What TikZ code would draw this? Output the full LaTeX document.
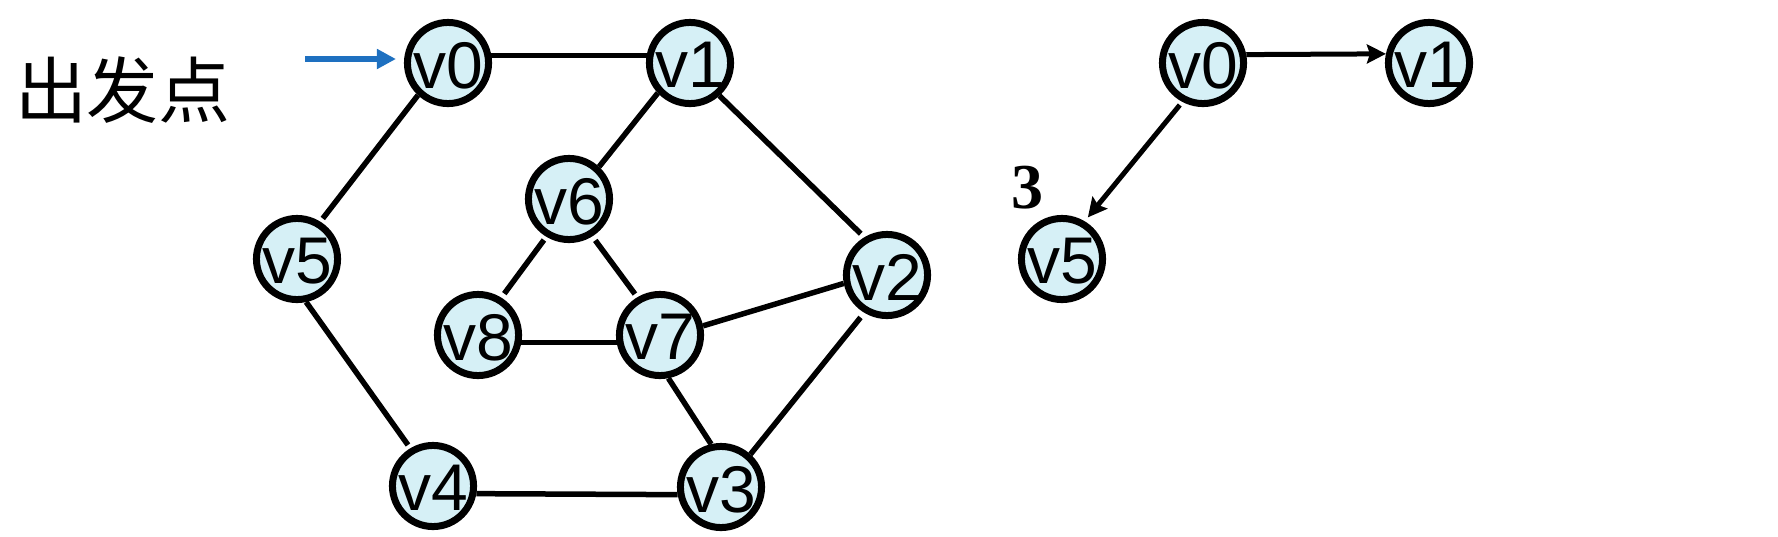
\documentclass[tikz,border=0pt]{standalone}
\usepackage{fontspec}
\setmainfont{Liberation Sans}
\newfontfamily\cjk{Noto Sans CJK SC}
\newfontfamily\serifnum{Liberation Serif}
\usetikzlibrary{arrows.meta}
\definecolor{nodefill}{RGB}{214,240,246}
\definecolor{startblue}{RGB}{30,112,192}
\newcommand{\vlab}[1]{\raisebox{-4pt}{#1}}
\begin{document}
\begin{tikzpicture}[x=1pt,y=-1pt,
  vert/.style={circle,draw=black,fill=nodefill,line width=7pt,minimum size=73pt,inner sep=0pt,
    font=\fontsize{66}{66}\selectfont,text depth=0pt},
  edge/.style={line width=5.5pt,black},
  darrow/.style={line width=5pt,black,-{Stealth[length=19pt,width=19pt,inset=3pt]}}
]
\useasboundingbox (0,0) rectangle (1778,536);
\fill[white] (0,0) rectangle (1778,536);

% left graph
\node[vert] (v0) at (448,63) {\vlab{v0}};
\node[vert] (v1) at (690,63) {\vlab{v1}};
\node[vert] (v6) at (569,199) {\vlab{v6}};
\node[vert] (v5) at (297,259) {\vlab{v5}};
\node[vert] (v2) at (887,275) {\vlab{v2}};
\node[vert] (v8) at (478,335) {\vlab{v8}};
\node[vert] (v7) at (660,335) {\vlab{v7}};
\node[vert] (v4) at (433,486) {\vlab{v4}};
\node[vert] (v3) at (721,487) {\vlab{v3}};

\draw[edge] (v0.10) -- (v1.170);
\draw[edge,shorten >=4pt] (v0.227) -- (v5.58);
\draw[edge,shorten >=4pt] (v5.282) -- (v4.121);
\draw[edge] (v4.-10) -- (v3.190);
\draw[edge] (v1.223) -- (v6.47);
\draw[edge,shorten >=5pt] (v1.312) -- (v2.121);
\draw[edge] (v7.12) -- (v2.191);
\draw[edge,shorten <=6pt] (v2.239) -- (v3.48);
\draw[edge] (v7.281) -- (v3.103);
\draw[edge,shorten <=4pt,shorten >=5pt] (v6.239) -- (v8.58);
\draw[edge,shorten <=5pt,shorten >=4pt] (v6.302) -- (v7.121);
\draw[edge] (v8.-10) -- (v7.190);

% start marker
\node[font=\cjk\fontsize{72}{72}\selectfont,inner sep=0pt] (start) at (123,90) {出发点};
\coordinate (arrstart) at (305,59);
\draw[line width=6pt,startblue,-{Triangle[length=19pt,width=19pt]},shorten >=8pt] (arrstart) -- (v0.west |- arrstart);

% right graph
\node[vert] (w0) at (1203,63) {\vlab{v0}};
\node[vert] (w1) at (1429,63) {\vlab{v1}};
\node[vert] (w5) at (1062,259) {\vlab{v5}};
\draw[darrow] (w0.11) -- (w1.168);
\draw[darrow,shorten <=4pt,shorten >=5pt] (w0.242) -- (w5.59);
\node[font=\serifnum\bfseries\fontsize{64}{64}\selectfont,inner sep=0pt] (lab3) at (1027,188) {3};
\end{tikzpicture}
\end{document}
